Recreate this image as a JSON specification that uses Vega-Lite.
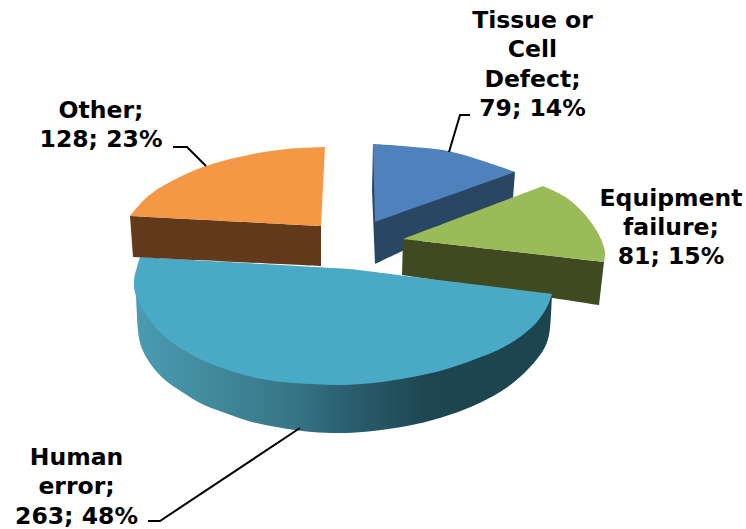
{"$schema":"https://vega.github.io/schema/vega-lite/v6.json","width":746,"height":529,"padding":0,"autosize":{"type":"none"},"background":"white","config":{"view":{"stroke":null}},
"datasets":{
"wall":[{"step":1,"u":136,"v":293},{"step":2,"u":136,"v":293},{"step":3,"u":139,"v":338},{"step":4,"u":143,"v":351},{"step":5,"u":152,"v":366},{"step":6,"u":165,"v":380},{"step":7,"u":182,"v":392},{"step":8,"u":202,"v":404},{"step":9,"u":225,"v":413},{"step":10,"u":252,"v":422},{"step":11,"u":282,"v":428},{"step":12,"u":312,"v":432},{"step":13,"u":345,"v":433},{"step":14,"u":373,"v":431},{"step":15,"u":407,"v":426},{"step":16,"u":440,"v":418},{"step":17,"u":473,"v":406},{"step":18,"u":500,"v":392},{"step":19,"u":520,"v":377},{"step":20,"u":537,"v":359},{"step":21,"u":545,"v":347},{"step":22,"u":549,"v":335},{"step":23,"u":551,"v":315},{"step":24,"u":552,"v":294},{"step":25,"u":552,"v":294},{"step":26,"u":400,"v":320},{"step":27,"u":400,"v":320},{"step":28,"u":200,"v":320},{"step":29,"u":200,"v":320}],
"faces":[
{"part":"a Tissue wall","step":1,"u":515,"v":172},{"part":"a Tissue wall","step":2,"u":515,"v":172},{"part":"a Tissue wall","step":3,"u":513,"v":198},{"part":"a Tissue wall","step":4,"u":513,"v":198},{"part":"a Tissue wall","step":5,"u":375,"v":264},{"part":"a Tissue wall","step":6,"u":375,"v":264},{"part":"a Tissue wall","step":7,"u":372,"v":190},{"part":"a Tissue wall","step":8,"u":372,"v":190},{"part":"a Tissue wall","step":9,"u":373,"v":144},{"part":"a Tissue wall","step":10,"u":373,"v":144},
{"part":"b Tissue top","step":1,"u":373,"v":144},{"part":"b Tissue top","step":2,"u":373,"v":144},{"part":"b Tissue top","step":3,"u":403,"v":146},{"part":"b Tissue top","step":4,"u":448,"v":151},{"part":"b Tissue top","step":5,"u":480,"v":160},{"part":"b Tissue top","step":6,"u":515,"v":172},{"part":"b Tissue top","step":7,"u":515,"v":172},{"part":"b Tissue top","step":8,"u":375,"v":222},{"part":"b Tissue top","step":9,"u":375,"v":222},
{"part":"c Equipment wall","step":1,"u":403,"v":239},{"part":"c Equipment wall","step":2,"u":403,"v":239},{"part":"c Equipment wall","step":3,"u":604,"v":262},{"part":"c Equipment wall","step":4,"u":604,"v":262},{"part":"c Equipment wall","step":5,"u":599,"v":305},{"part":"c Equipment wall","step":6,"u":599,"v":305},{"part":"c Equipment wall","step":7,"u":402,"v":275},{"part":"c Equipment wall","step":8,"u":402,"v":275},
{"part":"d Equipment top","step":1,"u":403,"v":239},{"part":"d Equipment top","step":2,"u":403,"v":239},{"part":"d Equipment top","step":3,"u":543,"v":186},{"part":"d Equipment top","step":4,"u":543,"v":186},{"part":"d Equipment top","step":5,"u":567,"v":198},{"part":"d Equipment top","step":6,"u":587,"v":217},{"part":"d Equipment top","step":7,"u":600,"v":237},{"part":"d Equipment top","step":8,"u":605,"v":252},{"part":"d Equipment top","step":9,"u":604,"v":262},{"part":"d Equipment top","step":10,"u":604,"v":262},
{"part":"e Human top","step":1,"u":140,"v":257},{"part":"e Human top","step":2,"u":140,"v":257},{"part":"e Human top","step":3,"u":350,"v":269},{"part":"e Human top","step":4,"u":350,"v":269},{"part":"e Human top","step":5,"u":552,"v":294},{"part":"e Human top","step":6,"u":552,"v":294},{"part":"e Human top","step":7,"u":547,"v":307},{"part":"e Human top","step":8,"u":537,"v":322},{"part":"e Human top","step":9,"u":520,"v":337},{"part":"e Human top","step":10,"u":500,"v":349},{"part":"e Human top","step":11,"u":473,"v":360},{"part":"e Human top","step":12,"u":440,"v":371},{"part":"e Human top","step":13,"u":407,"v":378},{"part":"e Human top","step":14,"u":373,"v":383},{"part":"e Human top","step":15,"u":342,"v":385},{"part":"e Human top","step":16,"u":312,"v":384},{"part":"e Human top","step":17,"u":282,"v":382},{"part":"e Human top","step":18,"u":252,"v":377},{"part":"e Human top","step":19,"u":225,"v":369},{"part":"e Human top","step":20,"u":202,"v":360},{"part":"e Human top","step":21,"u":182,"v":349},{"part":"e Human top","step":22,"u":165,"v":337},{"part":"e Human top","step":23,"u":152,"v":323},{"part":"e Human top","step":24,"u":142,"v":308},{"part":"e Human top","step":25,"u":135,"v":293},{"part":"e Human top","step":26,"u":134,"v":280},{"part":"e Human top","step":27,"u":137,"v":267},{"part":"e Human top","step":28,"u":140,"v":257},{"part":"e Human top","step":29,"u":140,"v":257},
{"part":"f Other wall","step":1,"u":130,"v":216},{"part":"f Other wall","step":2,"u":130,"v":216},{"part":"f Other wall","step":3,"u":321,"v":226},{"part":"f Other wall","step":4,"u":321,"v":226},{"part":"f Other wall","step":5,"u":321,"v":266},{"part":"f Other wall","step":6,"u":321,"v":266},{"part":"f Other wall","step":7,"u":133,"v":257},{"part":"f Other wall","step":8,"u":133,"v":257},
{"part":"g Other top","step":1,"u":325,"v":147},{"part":"g Other top","step":2,"u":325,"v":147},{"part":"g Other top","step":3,"u":287,"v":149},{"part":"g Other top","step":4,"u":253,"v":154},{"part":"g Other top","step":5,"u":206,"v":166},{"part":"g Other top","step":6,"u":170,"v":182},{"part":"g Other top","step":7,"u":147,"v":197},{"part":"g Other top","step":8,"u":130,"v":216},{"part":"g Other top","step":9,"u":130,"v":216},{"part":"g Other top","step":10,"u":321,"v":226},{"part":"g Other top","step":11,"u":321,"v":226}
],
"leaders":[
{"category":"Tissue or Cell Defect","step":1,"u":470,"v":115},{"category":"Tissue or Cell Defect","step":2,"u":460,"v":115},{"category":"Tissue or Cell Defect","step":3,"u":449,"v":152},
{"category":"Other","step":1,"u":173,"v":147},{"category":"Other","step":2,"u":187,"v":147},{"category":"Other","step":3,"u":206,"v":166},
{"category":"Human error","step":1,"u":148,"v":521},{"category":"Human error","step":2,"u":160,"v":521},{"category":"Human error","step":3,"u":300,"v":428}
],
"labels":[
{"category":"Tissue or Cell Defect","value":79,"percent":14,"label":"Tissue or\nCell\nDefect;\n79; 14%","u":532.5,"v":28},
{"category":"Equipment failure","value":81,"percent":15,"label":"Equipment\nfailure;\n81; 15%","u":671,"v":205.5},
{"category":"Other","value":128,"percent":23,"label":"Other;\n128; 23%","u":101,"v":118},
{"category":"Human error","value":263,"percent":48,"label":"Human\nerror;\n263; 48%","u":76.5,"v":465}
]},
"layer":[
{"data":{"name":"wall"},"mark":{"type":"line","interpolate":"catmull-rom","strokeWidth":0,"fill":{"gradient":"linear","x1":0,"y1":0,"x2":1,"y2":0,"stops":[{"offset":0,"color":"#4a9bb3"},{"offset":0.2,"color":"#408899"},{"offset":0.38,"color":"#367587"},{"offset":0.5,"color":"#2c6070"},{"offset":0.7,"color":"#1e4651"},{"offset":1,"color":"#1d4550"}]}},"encoding":{"x":{"field":"u","type":"quantitative","scale":{"domain":[0,746],"nice":false,"zero":false},"axis":null},"y":{"field":"v","type":"quantitative","scale":{"domain":[529,0],"nice":false,"zero":false},"axis":null},"order":{"field":"step"}}},
{"data":{"name":"faces"},"mark":{"type":"line","interpolate":"catmull-rom","strokeWidth":0},"encoding":{"x":{"field":"u","type":"quantitative","axis":null},"y":{"field":"v","type":"quantitative","axis":null},"order":{"field":"step"},"detail":{"field":"part"},"fill":{"field":"part","type":"nominal","legend":null,"scale":{"domain":["a Tissue wall","b Tissue top","c Equipment wall","d Equipment top","e Human top","f Other wall","g Other top"],"range":["#2a4665","#4f81bd","#3f4a21","#9bbb59","#4aa9c4","#63391c","#f59845"]}}}},
{"data":{"name":"leaders"},"mark":{"type":"line","color":"black","strokeWidth":2},"encoding":{"x":{"field":"u","type":"quantitative","axis":null},"y":{"field":"v","type":"quantitative","axis":null},"order":{"field":"step"},"detail":{"field":"category"}}},
{"data":{"name":"labels"},"mark":{"type":"text","font":"DejaVu Sans","fontWeight":"bold","fontSize":23.5,"lineBreak":"\n","lineHeight":29.3,"align":"center","baseline":"alphabetic","color":"black"},"encoding":{"x":{"field":"u","type":"quantitative","axis":null},"y":{"field":"v","type":"quantitative","axis":null},"text":{"field":"label"}}}
],
"resolve":{"scale":{"fill":"independent"}}}
